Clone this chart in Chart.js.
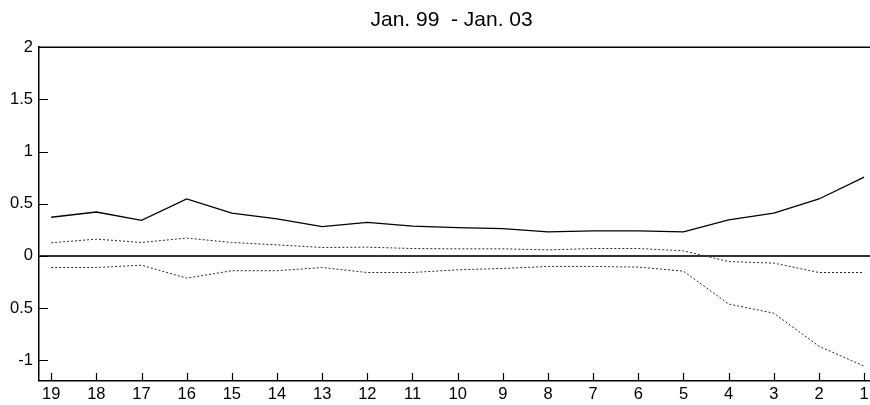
<!DOCTYPE html>
<html>
<head>
<meta charset="utf-8">
<script src="https://cdn.jsdelivr.net/npm/chart.js@4"></script>
<style>
  html, body { margin: 0; padding: 0; background: #fff; }
  #wrap { width: 870px; height: 405px; }
</style>
</head>
<body>
<div id="wrap"><canvas id="myChart" width="870" height="405"></canvas></div>
<script>
// periods, counted down from 19 to 1
const periods = [19, 18, 17, 16, 15, 14, 13, 12, 11, 10, 9, 8, 7, 6, 5, 4, 3, 2, 1];
const estimate = [0.37, 0.42, 0.34, 0.545, 0.41, 0.355, 0.28, 0.32, 0.285, 0.27, 0.26, 0.23, 0.24, 0.24, 0.23, 0.345, 0.41, 0.545, 0.755];
const upperBand = [0.125, 0.16, 0.128, 0.17, 0.128, 0.105, 0.08, 0.083, 0.07, 0.067, 0.067, 0.057, 0.07, 0.07, 0.048, -0.055, -0.07, -0.16, -0.16];
const lowerBand = [-0.112, -0.112, -0.09, -0.214, -0.143, -0.143, -0.112, -0.16, -0.16, -0.134, -0.121, -0.102, -0.102, -0.108, -0.147, -0.462, -0.55, -0.867, -1.058];
const yTicks = [-1, -0.5, 0, 0.5, 1, 1.5, 2];
const yTickLabels = ['-1', '0.5', '0', '0.5', '1', '1.5', '2'];
const titleText = 'Jan. 99  - Jan. 03';

const toPoints = (vals) => vals.map((v, i) => ({ x: periods[i], y: v }));

// frame top line + inward tick marks
const framePlugin = {
    id: 'frame',
    afterDraw(chart) {
        const ctx = chart.ctx;
        const area = chart.chartArea;
        const xs = chart.scales.x, ys = chart.scales.y;
        ctx.save();
        ctx.strokeStyle = '#000';
        ctx.lineWidth = 1.5;
        ctx.beginPath();
        ctx.moveTo(area.left, area.top);
        ctx.lineTo(area.right, area.top);
        ctx.stroke();
        ctx.lineWidth = 1.2;
        ctx.beginPath();
        ys.ticks.forEach(t => {
            const y = Math.round(ys.getPixelForValue(t.value)) + 0.5;
            ctx.moveTo(area.left, y);
            ctx.lineTo(area.left + 9, y);
        });
        xs.ticks.forEach(t => {
            const x = Math.round(xs.getPixelForValue(t.value)) + 0.5;
            ctx.moveTo(x, area.bottom);
            ctx.lineTo(x, area.bottom - 8);
        });
        ctx.stroke();
        ctx.restore();
    }
};

var chartContext = document.getElementById('myChart').getContext('2d');
var myChart = new Chart(chartContext, {
    type: 'line',
    data: {
        datasets: [
            {
                data: toPoints(estimate),
                borderColor: '#000',
                borderWidth: 1.3,
                pointRadius: 0,
                tension: 0,
                fill: false,
            },
            {
                data: toPoints(upperBand),
                borderColor: '#2a2a2a',
                borderWidth: 1,
                borderDash: [2, 2],
                pointRadius: 0,
                tension: 0,
                fill: false,
            },
            {
                data: toPoints(lowerBand),
                borderColor: '#2a2a2a',
                borderWidth: 1,
                borderDash: [2, 2],
                pointRadius: 0,
                tension: 0,
                fill: false,
            },
        ],
    },
    options: {
        responsive: false,
        animation: false,
        devicePixelRatio: 1,
        layout: { padding: 0 },
        plugins: {
            legend: { display: false },
            tooltip: { enabled: false },
            title: {
                display: true,
                fullSize: false,
                text: titleText + ' ',
                color: '#000',
                font: { family: 'Liberation Sans, Arial, sans-serif', size: 21, weight: 'normal' },
                padding: { top: 8, bottom: 14 },
            },
        },
        scales: {
            x: {
                type: 'linear',
                reverse: true,
                min: 0.87,
                max: 19.27,
                afterBuildTicks: (scale) => { scale.ticks = periods.map(p => ({ value: p })); },
                afterFit: (scale) => {
                    scale.height = 24;
                    scale.paddingLeft = 0;
                    scale.paddingRight = 0;
                },
                grid: { display: false, drawTicks: false },
                border: { display: true, color: '#000', width: 1.5 },
                ticks: {
                    color: '#000',
                    padding: 4,
                    maxRotation: 0,
                    autoSkip: false,
                    font: { family: 'Liberation Sans, Arial, sans-serif', size: 16.5 },
                    callback: (v) => String(v),
                },
            },
            y: {
                min: -1.2,
                max: 2,
                afterBuildTicks: (scale) => { scale.ticks = yTicks.map(v => ({ value: v })); },
                afterFit: (scale) => { scale.width = 39; },
                grid: {
                    drawTicks: false,
                    color: (c) => (c.tick && c.tick.value === 0 ? '#333' : 'rgba(0,0,0,0)'),
                    lineWidth: (c) => (c.tick && c.tick.value === 0 ? 2 : 0),
                },
                border: { display: true, color: '#000', width: 1.5 },
                ticks: {
                    color: '#000',
                    padding: 6,
                    font: { family: 'Liberation Sans, Arial, sans-serif', size: 16.5 },
                    callback: (v) => {
                        const i = yTicks.indexOf(v);
                        return i >= 0 ? yTickLabels[i] : '';
                    },
                },
            },
        },
    },
    plugins: [framePlugin],
});
</script>
</body>
</html>
